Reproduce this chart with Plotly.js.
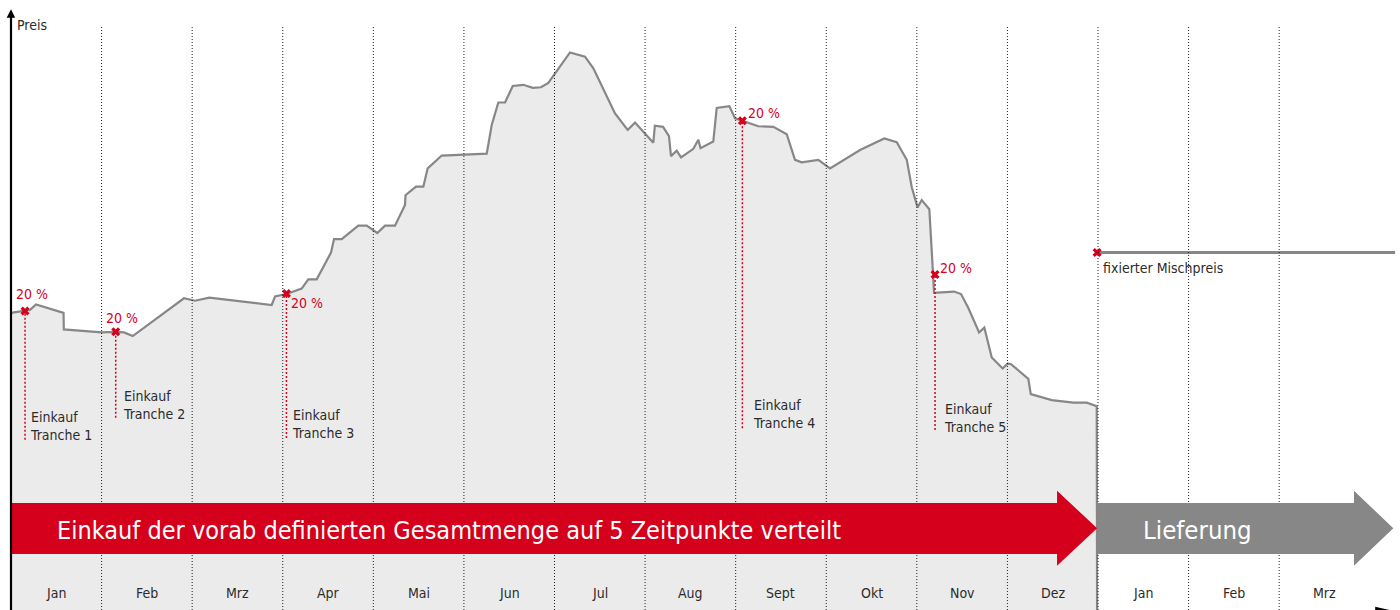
<!DOCTYPE html>
<html>
<head>
<meta charset="utf-8">
<script src="https://cdn.plot.ly/plotly-3.0.1.min.js"></script>
<style>
html,body{margin:0;padding:0;background:#fff;}
#chart{width:1400px;height:610px;}
</style>
</head>
<body>
<div id="chart"></div>
<script>
// ---- data (x in months since start of year 1, y = price index) ----
const monthLabels = ['Jan','Feb','Mrz','Apr','Mai','Jun','Jul','Aug','Sept','Okt','Nov','Dez','Jan','Feb','Mrz'];
const priceX = [0.00,0.155,0.21,0.276,0.541,0.580,0.583,1.001,1.156,1.248,1.344,1.910,2.031,2.189,2.878,2.915,3.041,3.209,3.282,3.375,3.533,3.566,3.651,3.834,3.927,4.044,4.129,4.239,4.350,4.355,4.471,4.552,4.600,4.755,5.252,5.307,5.380,5.454,5.539,5.656,5.760,5.851,5.932,6.171,6.337,6.429,6.668,6.808,6.889,7.091,7.108,7.198,7.264,7.286,7.349,7.397,7.533,7.588,7.612,7.753,7.791,7.930,7.993,8.074,8.250,8.416,8.564,8.655,8.729,8.913,9.042,9.373,9.641,9.778,9.889,9.944,10.008,10.054,10.138,10.179,10.190,10.411,10.488,10.569,10.687,10.745,10.827,10.948,11.004,11.040,11.231,11.258,11.489,11.728,11.876,11.986,11.99];
const priceY = [48.7,49.0,49.2,50.1,48.8,48.7,46.0,45.5,45.6,45.5,44.9,51.1,50.7,51.2,50.0,51.4,51.8,52.7,54.2,54.2,58.6,60.8,60.8,63.0,63.0,61.8,63.0,63.0,66.4,68.0,69.4,69.4,72.4,74.5,74.8,79.5,83.2,83.2,85.9,86.1,85.6,85.7,86.4,91.4,90.7,88.8,81.4,78.7,79.9,76.6,79.4,79.2,77.7,74.4,75.3,74.2,75.6,77.1,75.7,76.8,82.3,82.6,80.6,80.2,79.3,79.2,78.0,73.8,73.4,73.8,72.4,75.4,77.3,76.7,73.8,69.3,66.0,67.2,65.7,55.1,52.0,52.2,51.8,49.5,45.5,46.3,41.4,39.6,40.4,40.3,37.9,35.4,34.4,34.0,34.0,33.4,0];
const trancheX = [0.155,1.156,3.041,8.074,10.201];
const trancheY = [49.0,45.6,51.9,80.2,55.0];
const trancheShare = ['20 %','20 %','20 %','20 %','20 %'];
const trancheNames = ['Einkauf<br>Tranche 1','Einkauf<br>Tranche 2','Einkauf<br>Tranche 3','Einkauf<br>Tranche 4','Einkauf<br>Tranche 5'];
const fixedX = [11.99, 15.28];
const fixedY = [58.6, 58.6];
const fixedLabel = 'fixierter Mischpreis';
const buyText = 'Einkauf der vorab definierten Gesamtmenge auf 5 Zeitpunkte verteilt';
const deliveryText = 'Lieferung';
const yLabel = 'Preis';

// ---- layout helpers ----
const RED = '#d5001c', GREY = '#878787', TXT = '#2b2b2b';
const FONT = 'DejaVu Sans Condensed, sans-serif';

// label placement (offsets relative to the tranche points)
const shareDX = [0.082,0.064,0.227,0.239,0.232];
const shareDY = [2.8,2.3,-1.5,1.3,1.0];
const nameX  = [0.192,1.219,3.078,8.174,10.283];
const nameY  = [30.2,33.6,30.5,32.2,31.5];
const stemEnd = [27.9,31.5,28.2,29.8,29.5];

const traces = [
  {x: priceX, y: priceY, type:'scatter', mode:'lines', fill:'tozeroy',
   fillcolor:'#ebebeb', line:{color:GREY, width:2.2}, hoverinfo:'skip'},
  {x: fixedX, y: fixedY, type:'scatter', mode:'lines',
   line:{color:GREY, width:3}, hoverinfo:'skip'},
  {x: trancheX.concat([fixedX[0]]), y: trancheY.concat([fixedY[0]]), type:'scatter', mode:'markers',
   marker:{symbol:'x', size:8, color:RED, line:{width:0}}, hoverinfo:'skip'}
];

const shapes = [];
// month boundary dotted lines
for (let m = 1; m <= 14; m++) {
  shapes.push({type:'line', xref:'x', yref:'y', x0:m, x1:m, y0:0, y1:95.9,
    line:{color:'#222', width:1, dash:'1px,2px'}, layer:'above'});
}
// red dotted stems
trancheX.forEach((tx,i)=>{
  shapes.push({type:'line', xref:'x', yref:'y', x0:tx, x1:tx, y0:stemEnd[i], y1:trancheY[i],
    line:{color:RED, width:1.5, dash:'2px,2px'}, layer:'above'});
});
// red arrow
shapes.push({type:'path', xref:'x', yref:'y', layer:'above', fillcolor:RED, line:{width:0},
  path:`M 0,9.18 L 11.548,9.18 L 11.548,7.26 L 11.99,13.39 L 11.548,19.56 L 11.548,17.54 L 0,17.54 Z`});
// grey arrow
shapes.push({type:'path', xref:'x', yref:'y', layer:'above', fillcolor:GREY, line:{width:0},
  path:`M 11.99,9.18 L 14.826,9.18 L 14.826,7.26 L 15.26,13.39 L 14.826,19.56 L 14.826,17.54 L 11.99,17.54 Z`});
// left axis line + arrowhead
shapes.push({type:'line', xref:'x', yref:'y', x0:0, x1:0, y0:0, y1:97.5, line:{color:'#000', width:2.2}, layer:'above'});
shapes.push({type:'path', xref:'x', yref:'y', layer:'above', fillcolor:'#000', line:{width:0},
  path:`M -0.048,97.1 L 0,98.5 L 0.046,97.1 Z`});
// bottom axis arrowhead (mostly below the visible edge)
shapes.push({type:'path', xref:'x', yref:'y', layer:'above', fillcolor:'#000', line:{width:0},
  path:`M 15.06,0.55 L 15.33,-0.4 L 15.06,-1.5 Z`});

const annotations = [];
monthLabels.forEach((lab,i)=>{
  annotations.push({x:i+0.5, y:2.8, xref:'x', yref:'y', text:lab, showarrow:false,
    font:{family:FONT, size:14, color:TXT}, xanchor:'center', yanchor:'middle'});
});
trancheX.forEach((tx,i)=>{
  annotations.push({x:tx+shareDX[i], y:trancheY[i]+shareDY[i], xref:'x', yref:'y', text:trancheShare[i],
    showarrow:false, font:{family:FONT, size:14, color:RED}, xanchor:'center', yanchor:'middle'});
  annotations.push({x:nameX[i], y:nameY[i], xref:'x', yref:'y', text:trancheNames[i], showarrow:false,
    font:{family:FONT, size:14, color:TXT}, xanchor:'left', yanchor:'middle', align:'left'});
});
annotations.push({x:12.03, y:56.1, xref:'x', yref:'y', text:fixedLabel, showarrow:false,
  font:{family:FONT, size:14, color:TXT}, xanchor:'left', yanchor:'middle'});
annotations.push({x:0.04, y:95.9, xref:'x', yref:'y', text:yLabel, showarrow:false,
  font:{family:FONT, size:14, color:TXT}, xanchor:'left', yanchor:'middle'});
annotations.push({x:0.49, y:13.1, xref:'x', yref:'y', text:buyText, showarrow:false,
  font:{family:FONT, size:25, color:'#fff'}, xanchor:'left', yanchor:'middle'});
annotations.push({x:12.48, y:13.1, xref:'x', yref:'y', text:deliveryText, showarrow:false,
  font:{family:FONT, size:25.5, color:'#fff'}, xanchor:'left', yanchor:'middle'});

const layout = {
  width:1400, height:610, margin:{l:0,r:0,t:0,b:0},
  paper_bgcolor:'#fff', plot_bgcolor:'#fff', showlegend:false,
  xaxis:{range:[-0.1214,15.334], visible:false, fixedrange:true},
  yaxis:{range:[0,100], visible:false, fixedrange:true},
  shapes: shapes, annotations: annotations
};
Plotly.newPlot('chart', traces, layout, {displayModeBar:false, staticPlot:true});
</script>
</body>
</html>
